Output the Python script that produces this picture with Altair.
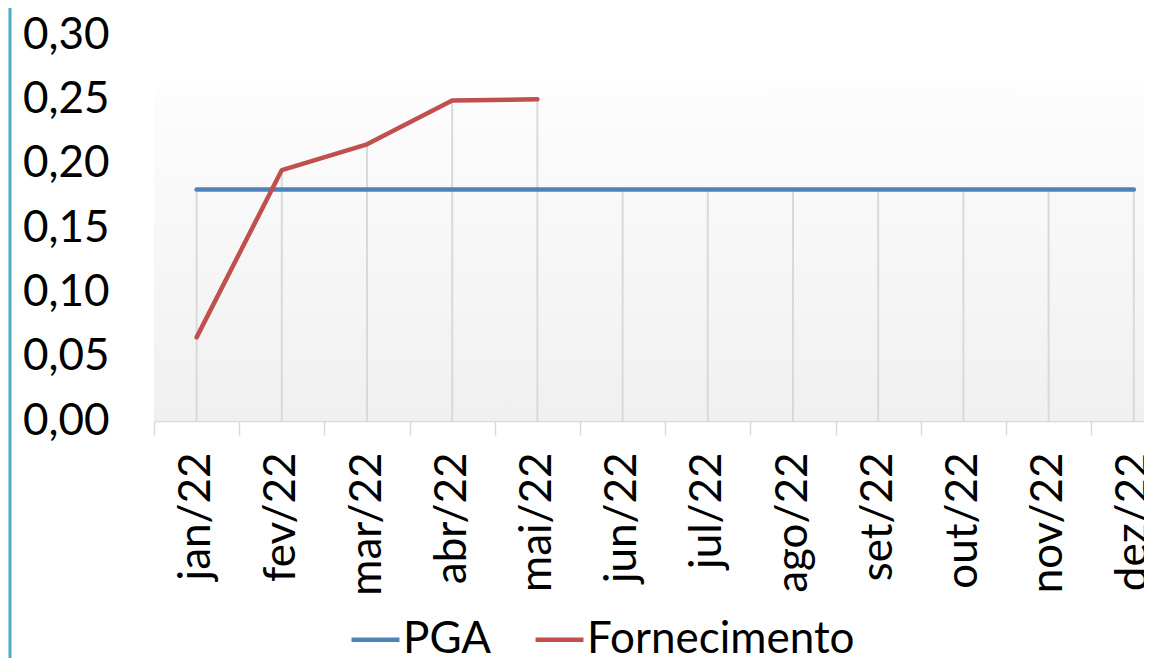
import altair as alt
import pandas as pd

# ---- data ----
months = ["jan/22", "fev/22", "mar/22", "abr/22", "mai/22", "jun/22",
          "jul/22", "ago/22", "set/22", "out/22", "nov/22", "dez/22"]
pga = [0.18, 0.18, 0.18, 0.18, 0.18, 0.18, 0.18, 0.18, 0.18, 0.18, 0.18, 0.18]
fornecimento = [0.065, 0.195, 0.215, 0.249, 0.250, None, None, None, None, None, None, None]
series_names = ["PGA", "Fornecimento"]
series_colors = ["#4F81BD", "#C0504D"]
y_ticks = [0.00, 0.05, 0.10, 0.15, 0.20, 0.25, 0.30]
plot_area_top = 0.26  # top of the shaded plot area

FONT = "Lato"
FS = 44

rows = []
for m, v in zip(months, pga):
    rows.append({"month": m, "series": "PGA", "value": v})
for m, v in zip(months, fornecimento):
    rows.append({"month": m, "series": "Fornecimento", "value": v})
df = pd.DataFrame(rows)

drops = pd.DataFrame({
    "month": months,
    "top": [max(a, b) if b is not None else a for a, b in zip(pga, fornecimento)],
    "base": [0.0] * len(months),
})
bg = pd.DataFrame({"top": [plot_area_top], "base": [0.0]})

x_scale = alt.Scale(domain=months, range=[0, 1022.4], paddingInner=0, paddingOuter=0)
y_scale = alt.Scale(domain=[0, 0.30], nice=False, zero=True)

x_axis = alt.Axis(
    title=None, labelAngle=270, labelAlign="right", labelBaseline="middle",
    labelFont=FONT, labelFontSize=FS, labelColor="#000000", labelPadding=17,
    labelOverlap=False, labelBound=False, labelFlush=False, labelLimit=0,
    tickBand="extent", tickSize=14, tickColor="#D9D9D9", tickWidth=1.5,
    domainColor="#D9D9D9", domainWidth=1.5, grid=False,
)
y_axis = alt.Axis(
    title=None, values=y_ticks, domain=False, ticks=False, tickSize=0, grid=False,
    labelExpr="replace(format(datum.value, '.2f'), '.', ',')",
    labelFont=FONT, labelFontSize=FS, labelColor="#000000", labelPadding=45,
)

border = alt.Chart(bg).mark_rule(color="#4BACC6", strokeWidth=3, clip=False).encode(
    x=alt.value(-144), y=alt.value(-30), y2=alt.value(640)
)

background = alt.Chart(bg).mark_rect(
    color=alt.Gradient(
        gradient="linear",
        stops=[alt.GradientStop(color="#FDFDFD", offset=0),
               alt.GradientStop(color="#F0F0F0", offset=1)],
        x1=0, x2=0, y1=0, y2=1,
    )
).encode(
    x=alt.value(0), x2=alt.value(1010),
    y=alt.Y("top:Q", scale=y_scale, axis=y_axis),
    y2="base:Q",
)

drop_lines = alt.Chart(drops).mark_rule(color="#D9D9D9", strokeWidth=2).encode(
    x=alt.X("month:N", scale=x_scale, axis=x_axis, sort=months),
    y=alt.Y("top:Q", scale=y_scale, axis=y_axis),
    y2="base:Q",
)

lines = alt.Chart(df).mark_line(strokeWidth=4.5, strokeCap="round", strokeJoin="round").encode(
    x=alt.X("month:N", scale=x_scale, axis=x_axis, sort=months),
    y=alt.Y("value:Q", scale=y_scale, axis=y_axis),
    color=alt.Color(
        "series:N",
        scale=alt.Scale(domain=series_names, range=series_colors),
        sort=series_names,
        legend=alt.Legend(
            title=None, orient="none", legendX=195, legendY=578,
            direction="horizontal", symbolType="stroke", symbolSize=2300,
            symbolStrokeWidth=4.5, labelFont=FONT, labelFontSize=FS,
            labelColor="#000000", columnPadding=34, labelOffset=1, labelLimit=0,
        ),
    ),
    order=alt.Order("series_order:Q"),
    detail="series:N",
).transform_calculate(series_order="datum.series == 'PGA' ? 0 : 1")

chart = alt.layer(border, background, drop_lines, lines).properties(
    width=990, height=386,
    autosize=alt.AutoSizeParams(type="none"),
    padding={"left": 146, "top": 27, "right": 0, "bottom": 237},
    background="#FFFFFF",
).configure_view(stroke=None)

chart.save("out.html", embed_options={"renderer": "svg", "actions": False})
